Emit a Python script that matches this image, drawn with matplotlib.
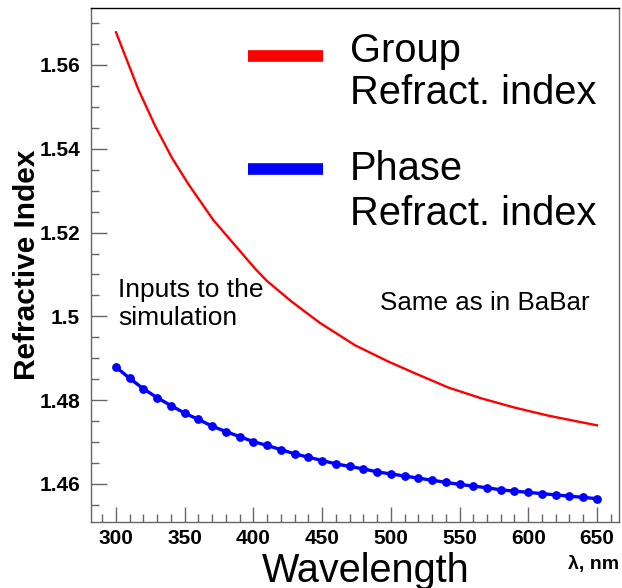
import numpy as np
import matplotlib
matplotlib.use("Agg")
import matplotlib.pyplot as plt
from matplotlib.ticker import MultipleLocator, FuncFormatter

# ---- data ----
lam_phase = [300, 310, 320, 330, 340, 350, 360, 370, 380, 390, 400, 410,
             420, 430, 440, 450, 460, 470, 480, 490, 500, 510, 520, 530,
             540, 550, 560, 570, 580, 590, 600, 610, 620, 630, 640, 650]
n_phase = [1.4879, 1.4852, 1.4827, 1.4806, 1.4787, 1.4769, 1.4754, 1.4738,
           1.4725, 1.4713, 1.4701, 1.4692, 1.4682, 1.4672, 1.4664, 1.4656,
           1.4648, 1.4642, 1.4636, 1.4629, 1.4624, 1.4619, 1.4614, 1.4609,
           1.4604, 1.4599, 1.4595, 1.4591, 1.4586, 1.4583, 1.4580, 1.4577,
           1.4574, 1.4571, 1.4568, 1.4565]

lam_group = [300, 316.2, 328.4, 340.6, 352.6, 370.8, 401.2, 409.7, 427.9,
             448.6, 474.0, 498.3, 517.7, 542.0, 566.3, 590.5, 614.8, 650]
n_group = [1.5678, 1.5542, 1.5455, 1.5379, 1.5316, 1.5230, 1.5114, 1.5085,
           1.5035, 1.4984, 1.4931, 1.4892, 1.4864, 1.4830, 1.4804, 1.4782,
           1.4763, 1.4740]

xticks = [300, 350, 400, 450, 500, 550, 600, 650]
yticks = [1.46, 1.48, 1.50, 1.52, 1.54, 1.56]

plt.rcParams['font.family'] = ['Liberation Sans', 'DejaVu Sans']

W, H = 622, 588
fig = plt.figure(figsize=(W / 100, H / 100), dpi=100)
L, R, T, B = 91, 618.5, 8, 522
ax = fig.add_axes([L / W, 1 - B / H, (R - L) / W, (B - T) / H])

ax.plot(lam_group, n_group, color='#ff0000', lw=1.7, zorder=3)
ax.plot(lam_phase, n_phase, color='#0000ff', lw=2.4, marker='o', ms=5.3,
        zorder=3)

ax.set_xlim(281.8, 665.7)
ax.set_ylim(1.45093, 1.5736)

ax.set_xticks(xticks)
ax.set_yticks(yticks)
ax.xaxis.set_minor_locator(MultipleLocator(10))
ax.yaxis.set_minor_locator(MultipleLocator(0.005))
ax.yaxis.set_major_formatter(FuncFormatter(lambda v, p: f"{v:g}"))

gray = '#666666'
ax.tick_params(axis='both', which='both', direction='in', color=gray,
               width=1.0, top=False, right=False)
ax.tick_params(axis='y', which='major', length=11.5, pad=8, labelsize=15)
ax.tick_params(axis='y', which='minor', length=6)
ax.tick_params(axis='x', which='major', length=10.8, pad=5, labelsize=15)
ax.tick_params(axis='x', which='minor', length=6)
for lab in ax.get_xticklabels() + ax.get_yticklabels():
    lab.set_fontweight('bold')

for s in ['left', 'bottom', 'right']:
    ax.spines[s].set_color(gray)
    ax.spines[s].set_linewidth(1.0)
ax.spines['top'].set_color('black')
ax.spines['top'].set_linewidth(1.0)

def fx(px):
    return (px - L) / (R - L)

def fy(py):
    return (B - py) / (B - T)

# axis titles
ax.text(fx(35.5), 0.5, 'Refractive Index', rotation=90, rotation_mode='anchor',
        ha='center', va='baseline', fontsize=21.5, fontweight='bold',
        transform=ax.transAxes)
ax.text(fx(366), fy(581.5), 'Wavelength', ha='center', va='baseline',
        fontsize=28.5, transform=ax.transAxes, clip_on=False)
ax.text(fx(619), fy(569), 'λ, nm', ha='right', va='baseline',
        fontsize=14, fontweight='bold', transform=ax.transAxes)

# legend
ax.plot([fx(248), fx(323)], [fy(56), fy(56)], color='#ff0000', lw=8.4,
        solid_capstyle='butt', transform=ax.transAxes, clip_on=False)
ax.plot([fx(248), fx(323)], [fy(169), fy(169)], color='#0000ff', lw=8.4,
        solid_capstyle='butt', transform=ax.transAxes, clip_on=False)
for txt, yb in [('Group', 61.5), ('Refract. index', 104),
                ('Phase', 180), ('Refract. index', 225)]:
    ax.text(fx(350), fy(yb), txt, ha='left', va='baseline', fontsize=28.7,
            transform=ax.transAxes)

# annotations
ax.text(fx(118.5), fy(297), 'Inputs to the', ha='left', va='baseline',
        fontsize=19, transform=ax.transAxes)
ax.text(fx(118.5), fy(325), 'simulation', ha='left', va='baseline',
        fontsize=19, transform=ax.transAxes)
ax.text(fx(380), fy(310), 'Same as in BaBar', ha='left', va='baseline',
        fontsize=18.7, transform=ax.transAxes)

fig.savefig('out.png', dpi=100)
